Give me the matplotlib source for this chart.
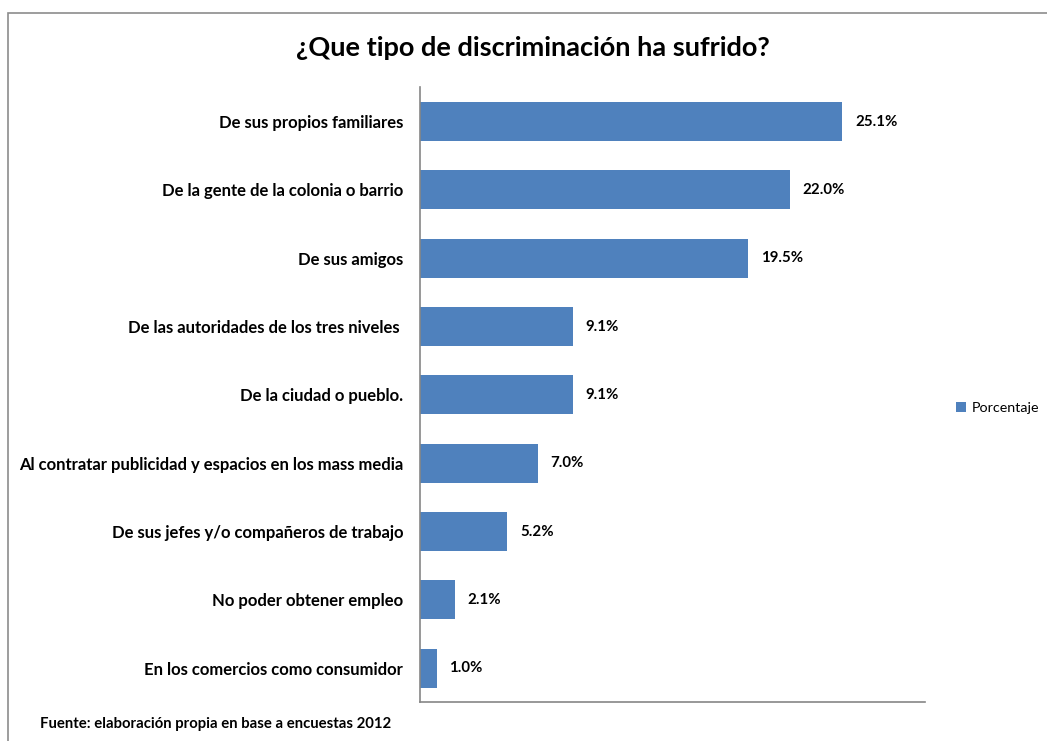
import matplotlib.pyplot as plt
from matplotlib.patches import Rectangle

categorias = [
    "De sus propios familiares",
    "De la gente de la colonia o barrio",
    "De sus amigos",
    "De las autoridades de los tres niveles ",
    "De la ciudad o pueblo.",
    "Al contratar publicidad y espacios en los mass media",
    "De sus jefes y/o compañeros de trabajo",
    "No poder obtener empleo",
    "En los comercios como consumidor",
]
porcentaje = [25.1, 22.0, 19.5, 9.1, 9.1, 7.0, 5.2, 2.1, 1.0]

plt.rcParams["font.family"] = ["Lato", "DejaVu Sans"]

fig = plt.figure(figsize=(10.47, 7.41), dpi=100)
ax = fig.add_axes([0.4011, 0.052, 0.4823, 0.830])

y = list(range(len(categorias)))
bars = ax.barh(y, porcentaje, height=0.57, color="#4F81BD", label="Porcentaje")
ax.set_ylim(len(categorias) - 0.5, -0.5)
ax.set_xlim(0, 30)

for b, v in zip(bars, porcentaje):
    ax.annotate(f"{v:.1f}%", (b.get_width(), b.get_y() + b.get_height() / 2),
                xytext=(9, 0), textcoords="offset points", va="center",
                fontsize=10.8, fontweight="bold")

ax.set_yticks(y)
ax.set_yticklabels(categorias, fontsize=12, fontweight="bold")
ax.tick_params(axis="y", length=0, pad=12)
ax.set_xticks([])
for s in ["top", "right"]:
    ax.spines[s].set_visible(False)
for s in ["left", "bottom"]:
    ax.spines[s].set_color("#868686")
    ax.spines[s].set_linewidth(1.2)

fig.text(0.509, 0.935, "¿Que tipo de discriminación ha sufrido?", ha="center",
         va="center", fontsize=19.5, fontweight="bold")

fig.legend(handles=[bars], labels=["Porcentaje"], loc="center left",
           bbox_to_anchor=(0.901, 0.45), frameon=False, fontsize=10.3,
           handlelength=0.7, handleheight=0.7, handletextpad=0.4)

fig.text(0.038, 0.023, "Fuente: elaboración propia en base a encuestas 2012",
         fontsize=10.7, fontweight="bold", va="center")

fig.patches.append(Rectangle((0.0076, -0.1), 1.2, 0.1 + 0.9825, transform=fig.transFigure,
                             fill=False, edgecolor="#8c8c8c", linewidth=1.2))

fig.savefig("out.png", dpi=100)
